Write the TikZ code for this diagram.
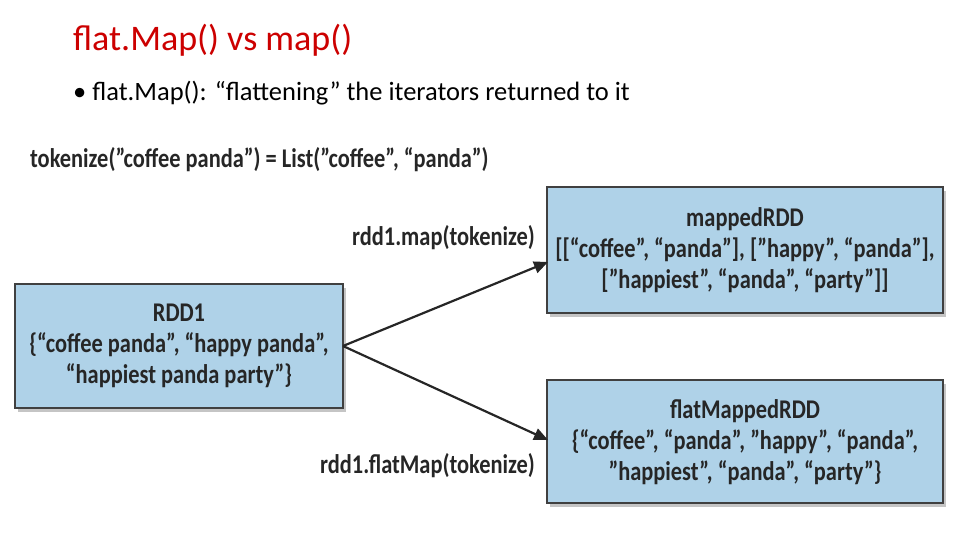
\documentclass[tikz,border=0pt]{standalone}
\usepackage{fontspec}
\setmainfont{Carlito}
\usetikzlibrary{shadows,arrows.meta}
\definecolor{titlered}{RGB}{204,0,0}
\definecolor{boxblue}{RGB}{175,210,232}
\tikzset{
  rdd/.style={draw=black!75,line width=1.5pt,fill=boxblue,drop shadow={shadow xshift=3pt,shadow yshift=-4pt,fill=black!45}},
  dtext/.style={font=\fontsize{27}{31}\selectfont\bfseries,text=black!85,align=center,xscale=0.83},
  conn/.style={line width=2.2pt,black!85,-{Triangle[length=14pt,width=12pt]}}
}
\begin{document}
\begin{tikzpicture}[x=1pt,y=-1pt]
\useasboundingbox (0,0) rectangle (960,540);
\node[anchor=west,text=titlered,font=\fontsize{36}{40}\selectfont,inner sep=0pt] (title) at (73,40) {flat.Map() vs map()};
\node[anchor=west,font=\fontsize{26.5}{30}\selectfont,inner sep=0pt] (bullet) at (73,93) {• flat.Map(): “flattening” the iterators returned to it};
\node[anchor=west,dtext,inner sep=0pt] (tok) at (30,160) {tokenize(”coffee panda”) = List(”coffee”, “panda”)};
\path[rdd] (547,187) rectangle (943,313);
\path[rdd] (547,380) rectangle (943,503);
\path[rdd] (15,284) rectangle (343,408);
\coordinate (src) at (343,346);
\coordinate (m) at (548,262);
\coordinate (f) at (548,440);
\node[dtext] (mt) at (745,250) {mappedRDD\\{}[{[}“coffee”, “panda”], [”happy”, “panda”],\\{}[”happiest”, “panda”, “party”]]};
\node[dtext] (ft) at (745,442) {flatMappedRDD\\\{“coffee”, “panda”, ”happy”, “panda”,\\”happiest”, “panda”, “party”\}};
\node[dtext] (rt) at (179,346) {RDD1\\\{“coffee panda”, “happy panda”,\\“happiest panda party”\}};
\draw[conn] (src) -- (m);
\draw[conn] (src) -- (f);
\node[anchor=east,dtext,inner sep=0pt] (ml) at (535,238) {rdd1.map(tokenize)};
\node[anchor=east,dtext,inner sep=0pt] (fl) at (535,466) {rdd1.flatMap(tokenize)};
\end{tikzpicture}
\end{document}
